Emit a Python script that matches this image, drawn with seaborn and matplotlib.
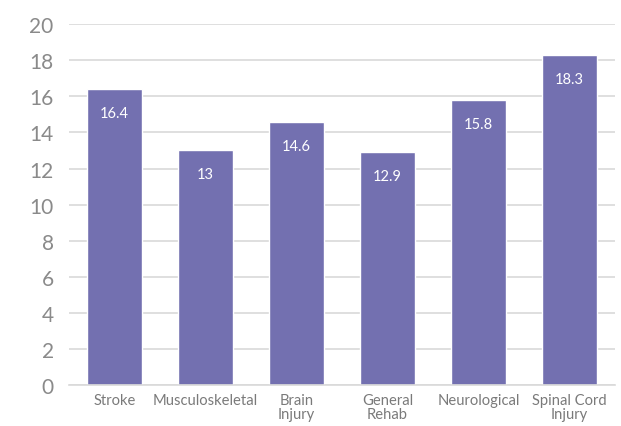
import matplotlib
matplotlib.use("Agg")
import matplotlib.pyplot as plt
import seaborn as sns
import pandas as pd

categories = ["Stroke", "Musculoskeletal", "Brain\nInjury", "General\nRehab", "Neurological", "Spinal Cord\nInjury"]
values = [16.4, 13, 14.6, 12.9, 15.8, 18.3]
value_labels = ["16.4", "13", "14.6", "12.9", "15.8", "18.3"]
yticks = [0, 2, 4, 6, 8, 10, 12, 14, 16, 18, 20]

sns.set_theme(style="white")
plt.rcParams['font.family'] = ['Lato', 'DejaVu Sans']

df = pd.DataFrame({"cat": categories, "val": values})
fig = plt.figure(figsize=(6.21, 4.27), dpi=100)
ax = fig.add_axes([0.111, 0.096, 0.879, 0.845])
sns.barplot(data=df, x="cat", y="val", color="#7370B0", saturation=1, width=0.61, ax=ax)
ax.set_ylim(0, 20)
ax.set_xlim(-0.5, len(categories) - 0.5)
ax.set_yticks(yticks)
ax.set_yticklabels([str(t) for t in yticks], fontsize=15, color="#8a8a8a")
ax.tick_params(axis="x", labelsize=10.6, colors="#7a7a7a", length=0, pad=6)
ax.tick_params(axis="y", length=0, pad=11)
for lab in ax.get_xticklabels():
    lab.set_linespacing(0.95)
ax.set_xlabel("")
ax.set_ylabel("")
ax.yaxis.grid(True, color="#d9d9d9", linewidth=1.2)
ax.set_axisbelow(True)
for s in ["top", "right", "left"]:
    ax.spines[s].set_visible(False)
ax.spines["bottom"].set_color("#d9d9d9")
ax.spines["bottom"].set_linewidth(1.2)
for p, lab in zip(ax.patches, value_labels):
    ax.annotate(lab, (p.get_x() + p.get_width() / 2, p.get_height()),
                xytext=(0, -24), textcoords="offset pixels",
                ha="center", va="center", color="white", fontsize=10.5)
fig.savefig("out.png", dpi=100)
